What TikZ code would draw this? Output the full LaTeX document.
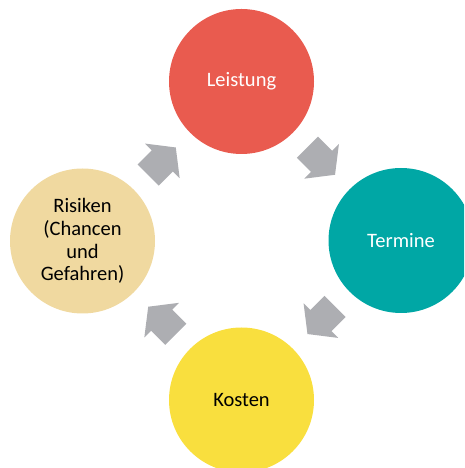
\documentclass[tikz,border=0pt]{standalone}
\usepackage{fontspec}
\setmainfont{Carlito}
\usetikzlibrary{calc}
\definecolor{cred}{HTML}{E95B4F}
\definecolor{cteal}{HTML}{00A7A5}
\definecolor{cyellow}{HTML}{F9DF3E}
\definecolor{cbeige}{HTML}{F0D9A0}
\definecolor{cgray}{HTML}{ADAEB2}
\tikzset{
  phase/.style={circle, minimum size=145pt, inner sep=0pt, align=center,
    font=\fontsize{20.5}{22.7}\selectfont},
  blockarrow/.pic={
    \fill[cgray] (-19.5,-15) -- (0.5,-15) -- (0.5,-24.5) -- (19.5,0)
      -- (0.5,24.5) -- (0.5,15) -- (-19.5,15) -- cycle;
  }
}
\begin{document}
\begin{tikzpicture}[x=1pt,y=1pt]
\useasboundingbox (0,0) rectangle (464,468);
\clip (0,0) rectangle (464,468);
\node[phase, fill=cred, text=white]   (leistung) at (241.5,386.5) {Leistung};
\node[phase, fill=cteal, text=white]  (termine)  at (401,227.5) {Termine};
\node[phase, fill=cyellow, text=black] (kosten)  at (241.5,68) {Kosten};
\node[phase, fill=cbeige, text=black]  (risiken) at (82.5,227) {Risiken\\(Chancen\\und\\Gefahren)};
\path ($(risiken)!0.5!(leistung)$) pic[rotate=45] {blockarrow};
\path ($(leistung)!0.5!(termine)$) pic[rotate=-45] {blockarrow};
\path ($(termine)!0.5!(kosten)$) pic[rotate=-135] {blockarrow};
\path ($(kosten)!0.5!(risiken)$) pic[rotate=135] {blockarrow};
\end{tikzpicture}
\end{document}
